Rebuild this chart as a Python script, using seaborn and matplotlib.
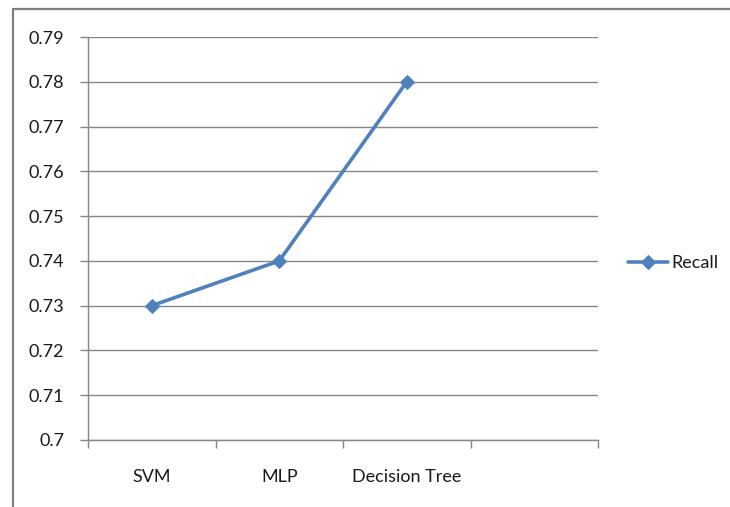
import matplotlib
matplotlib.use("Agg")
import matplotlib.pyplot as plt
from matplotlib.patches import Rectangle
from matplotlib.ticker import FixedLocator
import seaborn as sns
import pandas as pd

# Recall by classifier
categories = ["SVM", "MLP", "Decision Tree"]
recall = [0.73, 0.74, 0.78]
y_ticks = [0.70, 0.71, 0.72, 0.73, 0.74, 0.75, 0.76, 0.77, 0.78, 0.79]
y_tick_labels = ["0.7", "0.71", "0.72", "0.73", "0.74", "0.75", "0.76", "0.77", "0.78", "0.79"]
n_slots = 4  # category slots on the axis (last one empty)

sns.set_theme(style="white")
plt.rcParams["font.family"] = ["Lato", "DejaVu Sans"]

W, H = 730, 507
fig = plt.figure(figsize=(W / 100, H / 100), dpi=100)
ax = fig.add_axes([88 / W, 1 - 440 / H, (598 - 88) / W, (440 - 37) / H])

df = pd.DataFrame({"model": categories, "Recall": recall})
df["pos"] = range(len(df))
blue = "#4F81BD"
sns.lineplot(data=df, x="pos", y="Recall", ax=ax, color=blue, linewidth=2.6,
             marker="D", markersize=7, markeredgecolor=blue, label="Recall")

grid_c = "#868686"
fs = 13
ax.set_ylim(0.70, 0.79)
ax.set_yticks(y_ticks)
ax.set_yticklabels(y_tick_labels)
ax.yaxis.grid(True, color=grid_c, linewidth=1)
ax.set_axisbelow(True)

ax.set_xlim(-0.5, n_slots - 0.5)
ax.set_xticks(range(len(categories)))
ax.set_xticklabels(categories)
ax.xaxis.set_minor_locator(FixedLocator([i - 0.5 for i in range(n_slots + 1)]))
ax.tick_params(axis="x", which="major", length=0, pad=21, labelsize=fs, colors="#1a1a1a")
ax.tick_params(axis="x", which="minor", length=6, width=1, color=grid_c, direction="out", bottom=True)
ax.tick_params(axis="y", length=6, width=1, color=grid_c, direction="out", left=True,
               pad=11, labelsize=fs, labelcolor="#1a1a1a")
ax.set_xlabel("")
ax.set_ylabel("")

for side in ("top", "right"):
    ax.spines[side].set_visible(False)
for side in ("left", "bottom"):
    ax.spines[side].set_color(grid_c)
    ax.spines[side].set_linewidth(1)

leg = ax.legend(loc="center left", bbox_to_anchor=(628 / W, 1 - 263 / H),
                bbox_transform=fig.transFigure, frameon=False, fontsize=fs,
                handlelength=2.2, handletextpad=0.2, borderaxespad=0, borderpad=0)
for t in leg.get_texts():
    t.set_color("#1a1a1a")

# chart border (extends past the right and bottom edges)
fig.patches.append(Rectangle((13 / W, -0.1), 1.2, 1 - 9 / H + 0.1,
                             transform=fig.transFigure, fill=False,
                             edgecolor="#808080", linewidth=1.6))

fig.savefig("out.png", dpi=100)
